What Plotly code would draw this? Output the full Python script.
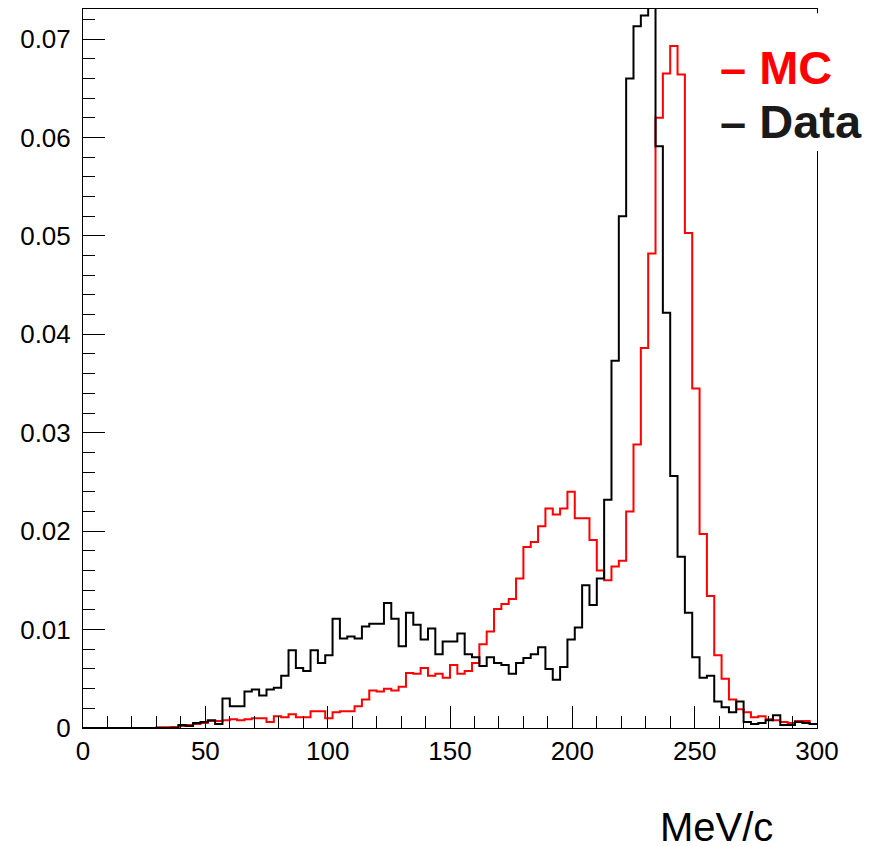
import numpy as np
import plotly.graph_objects as go

# 100 bins of 3 MeV/c from 0 to 300
bin_edges = np.arange(0, 303, 3)

mc = [
    0, 0, 0, 0, 0, 0, 0, 0, 0, 0,
    0.00008, 0.00008, 0.0001, 0.0002, 0.0003, 0.0004, 0.0005, 0.0007, 0.0007, 0.0008,
    0.0009, 0.0008, 0.0009, 0.0010, 0.0010, 0.0006, 0.0012, 0.0011, 0.0014, 0.0011,
    0.0011, 0.0017, 0.0017, 0.0010, 0.0016, 0.0017, 0.0017, 0.0022, 0.0029, 0.0038,
    0.0037, 0.0040, 0.0038, 0.0042, 0.0056, 0.0055, 0.0061, 0.0053, 0.0055, 0.0051,
    0.0064, 0.0055, 0.0058, 0.0066, 0.0085, 0.0098, 0.0121, 0.0126, 0.0131, 0.0152,
    0.0184, 0.0189, 0.0205, 0.0223, 0.0217, 0.0223, 0.0240, 0.0213, 0.0213, 0.0191,
    0.0160, 0.0150, 0.0164, 0.0170, 0.0220, 0.0288, 0.0386, 0.0482, 0.0620, 0.0665,
    0.0693, 0.0664, 0.0503, 0.0345, 0.0197, 0.0134, 0.0074, 0.0050, 0.0029, 0.0019,
    0.0016, 0.0011, 0.0012, 0.0009, 0.0008, 0.0006, 0.0005, 0.0007, 0.0007, 0.0004,
]

data = [
    0, 0, 0, 0, 0, 0, 0, 0, 0, 0,
    0, 0, 0, 0.0003, 0.0002, 0.0005, 0.0006, 0.0008, 0.0004, 0.0030,
    0.0022, 0.0022, 0.0037, 0.0039, 0.0033, 0.0039, 0.0041, 0.0053, 0.0079, 0.0061,
    0.0058, 0.0079, 0.0066, 0.0074, 0.0111, 0.0091, 0.0093, 0.0091, 0.0103, 0.0106,
    0.0106, 0.0127, 0.0111, 0.0083, 0.0117, 0.0105, 0.0090, 0.0101, 0.0075, 0.0088,
    0.0088, 0.0096, 0.0075, 0.0072, 0.0063, 0.0072, 0.0066, 0.0064, 0.0055, 0.0066,
    0.0071, 0.0075, 0.0082, 0.0060, 0.0049, 0.0062, 0.0090, 0.0102, 0.0145, 0.0125,
    0.0152, 0.0232, 0.0373, 0.0520, 0.0660, 0.0713, 0.0724, 0.0760, 0.0591, 0.0422,
    0.0256, 0.0174, 0.0117, 0.0072, 0.0051, 0.0053, 0.0027, 0.0021, 0.0016, 0.0027,
    0.0006, 0.0004, 0.0005, 0.0008, 0.0013, 0.0003, 0.0003, 0.0006, 0.0005, 0.0004,
]

font = "Liberation Sans, Arial, sans-serif"

fig = go.Figure()
# step outline: each value held over its bin, last value repeated to close at 300
fig.add_trace(go.Scatter(x=bin_edges, y=mc + [mc[-1]], mode="lines", line_shape="hv",
                         line=dict(color="#ff0000", width=2), name="MC"))
fig.add_trace(go.Scatter(x=bin_edges, y=data + [data[-1]], mode="lines", line_shape="hv",
                         line=dict(color="#000000", width=2), name="Data"))

# page body adds an 8px offset, so margins are shifted to compensate
fig.update_layout(
    width=878, height=846,
    margin=dict(l=75, r=69, t=1, b=126),
    paper_bgcolor="white", plot_bgcolor="white",
    showlegend=False,
    font=dict(family=font, size=26, color="black"),
    xaxis=dict(range=[0, 300], dtick=50, ticks="inside", ticklen=22, tickwidth=1,
               tickcolor="black", showline=True, linecolor="black", linewidth=1,
               mirror=True, showgrid=False, zeroline=False, ticklabelstandoff=0,
               minor=dict(dtick=10, ticks="inside", ticklen=12, tickcolor="black")),
    yaxis=dict(range=[0, 0.07305], dtick=0.01, ticks="inside", ticklen=22, tickwidth=1,
               tickcolor="black", showline=True, linecolor="black", linewidth=1,
               mirror=True, showgrid=False, zeroline=False, ticklabelstandoff=6,
               minor=dict(dtick=0.002, ticks="inside", ticklen=12, tickcolor="black")),
)

# legend box (white, no border) with line-style entries
fig.add_shape(type="rect", xref="paper", yref="paper", x0=0.847, x1=1.08,
              y0=0.8025, y1=0.994, fillcolor="white", line_width=0, layer="above")
fig.add_annotation(xref="paper", yref="paper", x=0.865, y=0.918, xanchor="left",
                   yanchor="middle", showarrow=False, text="<b>– MC</b>",
                   font=dict(family=font, size=47, color="#ff0000"))
fig.add_annotation(xref="paper", yref="paper", x=0.865, y=0.844, xanchor="left",
                   yanchor="middle", showarrow=False, text="<b>– Data</b>",
                   font=dict(family=font, size=47, color="#1a1a1a"))

# axis title placed lower right, as in the original
fig.add_annotation(xref="paper", yref="paper", x=0.943, y=-0.138, xanchor="right",
                   yanchor="middle", showarrow=False, text="MeV/c",
                   font=dict(family=font, size=40, color="black"))

fig.write_html("out.html")
